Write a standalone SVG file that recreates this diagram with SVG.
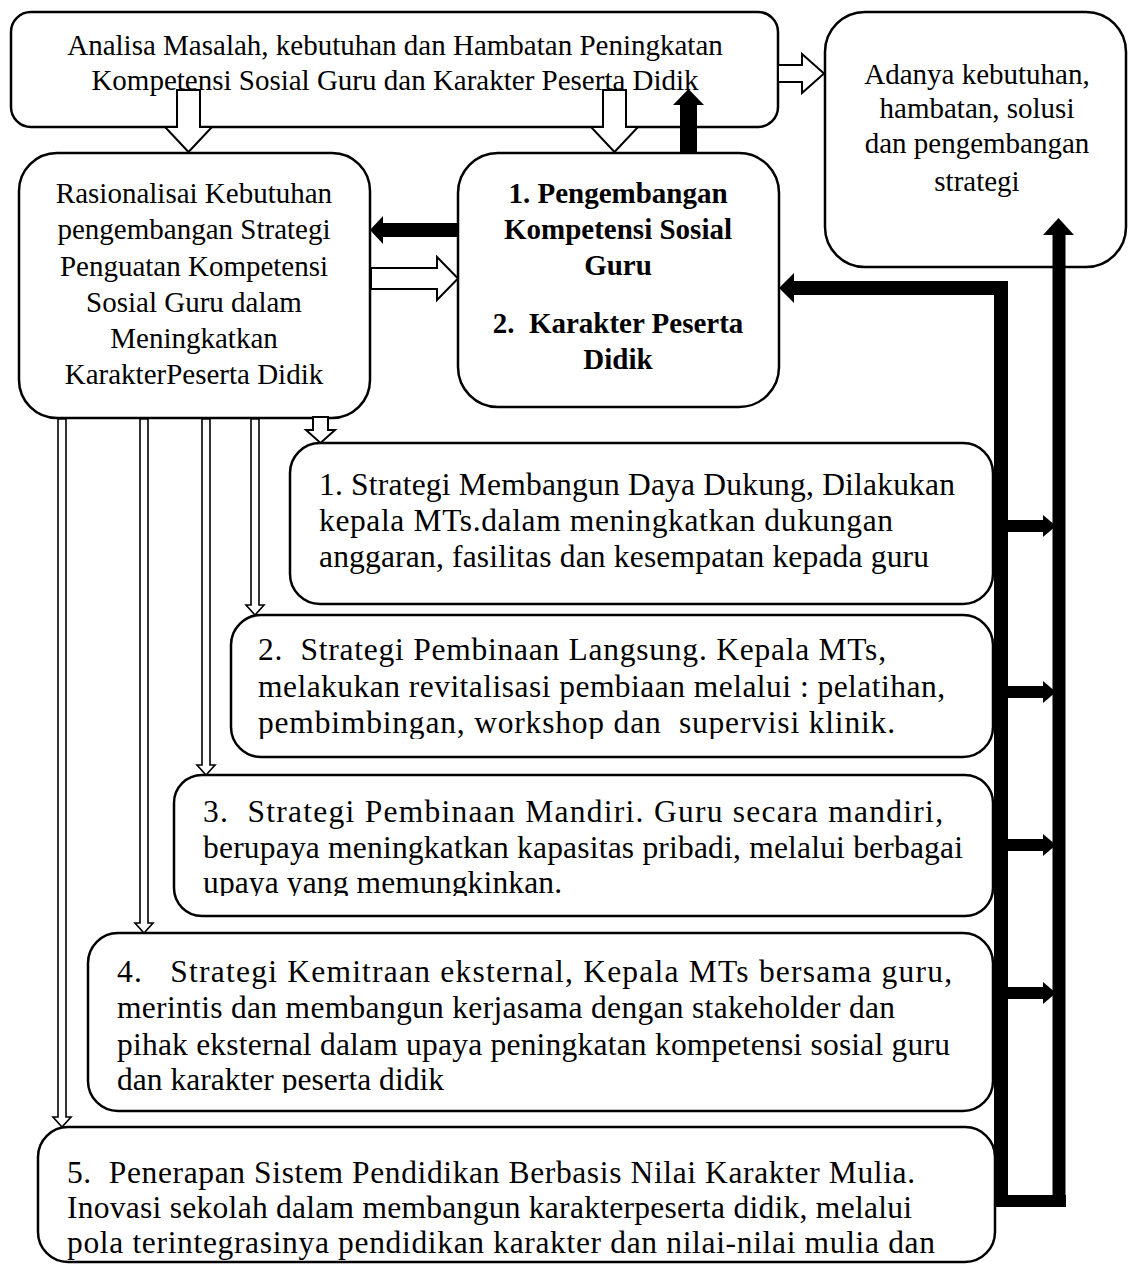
<svg xmlns="http://www.w3.org/2000/svg" width="1128" height="1266" viewBox="0 0 1128 1266">
<style>
.box{fill:#fff;stroke:#000;stroke-width:2.5}
.t{font-family:"Liberation Serif","Times New Roman",serif;font-size:29px;fill:#000;white-space:pre}
.s{font-size:31.5px}
.b{font-weight:bold}
.c{text-anchor:middle}
.hol{fill:#fff;stroke:#000;stroke-width:2;stroke-linejoin:miter}
.dbl{fill:#fff;stroke:#000;stroke-width:1.6}
.blk{fill:#000}
.bl{fill:none;stroke:#000}
</style>
<defs>
<clipPath id="clip2"><rect x="231" y="615" width="762" height="124"/></clipPath>
<clipPath id="clip3"><rect x="174" y="775" width="819" height="121"/></clipPath>
<clipPath id="clip4"><rect x="88" y="933" width="905" height="160"/></clipPath>
<clipPath id="clip5"><rect x="38" y="1127" width="957" height="133"/></clipPath>
</defs>
<rect width="1128" height="1266" fill="#fff"/>

<g id="node-analisa">
<rect class="box" x="11" y="12" width="767" height="115" rx="20"/>
<text class="t c" x="395" y="55">Analisa Masalah, kebutuhan dan Hambatan Peningkatan</text>
<text class="t c" x="395" y="90">Kompetensi Sosial Guru dan Karakter Peserta Didik</text>
</g>

<g id="node-adanya">
<rect class="box" x="825" y="12" width="301" height="255" rx="40"/>
<text class="t c" x="977" y="84">Adanya kebutuhan,</text>
<text class="t c" x="977" y="118">hambatan, solusi</text>
<text class="t c" x="977" y="153">dan pengembangan</text>
<text class="t c" x="977" y="191">strategi</text>
</g>

<g id="node-rasionalisasi">
<rect class="box" x="19" y="153" width="351" height="265" rx="38"/>
<text class="t c" x="194" y="203">Rasionalisai Kebutuhan</text>
<text class="t c" x="194" y="239">pengembangan Strategi</text>
<text class="t c" x="194" y="276">Penguatan Kompetensi</text>
<text class="t c" x="194" y="312">Sosial Guru dalam</text>
<text class="t c" x="194" y="348">Meningkatkan</text>
<text class="t c" x="194" y="384">KarakterPeserta Didik</text>
</g>

<g id="node-pengembangan">
<rect class="box" x="458" y="153" width="321" height="254" rx="40"/>
<text class="t b c" x="618" y="203">1. Pengembangan</text>
<text class="t b c" x="618" y="239">Kompetensi Sosial</text>
<text class="t b c" x="618" y="275">Guru</text>
<text class="t b c" x="618" y="333">2.  Karakter Peserta</text>
<text class="t b c" x="618" y="369">Didik</text>
</g>

<g id="node-strategi1">
<rect class="box" x="290" y="443" width="703" height="161" rx="30"/>
<text class="t s" x="319" y="495" textLength="636">1. Strategi Membangun Daya Dukung, Dilakukan</text>
<text class="t s" x="319" y="531" textLength="574">kepala MTs.dalam meningkatkan dukungan</text>
<text class="t s" x="319" y="567" textLength="610">anggaran, fasilitas dan kesempatan kepada guru</text>
</g>

<g id="node-strategi2">
<rect class="box" x="231" y="615" width="762" height="142" rx="30"/>
<g clip-path="url(#clip2)">
<text class="t s" x="258" y="660" textLength="628">2.  Strategi Pembinaan Langsung. Kepala MTs,</text>
<text class="t s" x="258" y="697" textLength="687">melakukan revitalisasi pembiaan melalui : pelatihan,</text>
<text class="t s" x="258" y="733" textLength="637">pembimbingan, workshop dan  supervisi klinik.</text>
</g>
</g>

<g id="node-strategi3">
<rect class="box" x="174" y="775" width="819" height="141" rx="28"/>
<g clip-path="url(#clip3)">
<text class="t s" x="203" y="822" textLength="740">3.  Strategi Pembinaan Mandiri. Guru secara mandiri,</text>
<text class="t s" x="203" y="858" textLength="760">berupaya meningkatkan kapasitas pribadi, melalui berbagai</text>
<text class="t s" x="203" y="893" textLength="359">upaya yang memungkinkan.</text>
</g>
</g>

<g id="node-strategi4">
<rect class="box" x="88" y="933" width="905" height="178" rx="30"/>
<g clip-path="url(#clip4)">
<text class="t s" x="117" y="982" textLength="835">4.   Strategi Kemitraan eksternal, Kepala MTs bersama guru,</text>
<text class="t s" x="117" y="1018" textLength="778">merintis dan membangun kerjasama dengan stakeholder dan</text>
<text class="t s" x="117" y="1055" textLength="833">pihak eksternal dalam upaya peningkatan kompetensi sosial guru</text>
<text class="t s" x="117" y="1090" textLength="327">dan karakter peserta didik</text>
</g>
</g>

<g id="node-strategi5">
<rect class="box" x="38" y="1127" width="957" height="135" rx="30"/>
<g clip-path="url(#clip5)">
<text class="t s" x="67" y="1183" textLength="848">5.  Penerapan Sistem Pendidikan Berbasis Nilai Karakter Mulia.</text>
<text class="t s" x="67" y="1218" textLength="845">Inovasi sekolah dalam membangun karakterpeserta didik, melalui</text>
<text class="t s" x="67" y="1253" textLength="868">pola terintegrasinya pendidikan karakter dan nilai-nilai mulia dan</text>
</g>
</g>

<g id="connectors">
<polygon class="hol" points="778,65 802,65 802,54 824,73.5 802,93 802,82 778,82"/>
<polygon class="hol" points="177,90 200,90 200,127 212,127 188.5,152 165,127 177,127"/>
<polygon class="hol" points="603,90 626,90 626,127 638,127 614.5,152 591,127 603,127"/>
<polygon class="hol" points="371,268 437,268 437,257 458,278.5 437,300 437,289 371,289"/>
<polygon class="hol" points="313,417 328,417 328,430 335,430 320.5,443 306,430 313,430"/>
<polygon class="dbl" points="58,419 58,1117 53,1117 62,1127 71,1117 66,1117 66,419"/>
<polygon class="dbl" points="140,419 140,923 135,923 144,933 153,923 148,923 148,419"/>
<polygon class="dbl" points="202,419 202,765 197,765 206,775 215,765 210,765 210,419"/>
<polygon class="dbl" points="251,419 251,605 246,605 255,615 264,605 259,605 259,419"/>
<polygon class="blk" points="680,153 680,105 673,105 688.5,89 704,105 697,105 697,153"/>
<polygon class="blk" points="458,223 383,223 383,216 370,230 383,244 383,237 458,237"/>
<polyline class="bl" points="1001,1207 1001,288 792,288" stroke-width="14" stroke-linejoin="miter"/>
<polygon class="blk" points="794,273 779,288 794,303"/>
<line class="bl" x1="1059" y1="1207" x2="1059" y2="234" stroke-width="13"/>
<polygon class="blk" points="1043,235 1058.5,218 1074,235"/>
<line class="bl" x1="994" y1="1201" x2="1066" y2="1201" stroke-width="12"/>
<g id="side-arrows">
<line class="bl" x1="1007" y1="526" x2="1044" y2="526" stroke-width="12"/>
<polygon class="blk" points="1043,515 1056,526 1043,537"/>
<line class="bl" x1="1007" y1="692" x2="1044" y2="692" stroke-width="12"/>
<polygon class="blk" points="1043,681 1056,692 1043,703"/>
<line class="bl" x1="1007" y1="845" x2="1044" y2="845" stroke-width="12"/>
<polygon class="blk" points="1043,834 1056,845 1043,856"/>
<line class="bl" x1="1007" y1="993" x2="1044" y2="993" stroke-width="12"/>
<polygon class="blk" points="1043,982 1056,993 1043,1004"/>
</g>
</g>
</svg>
